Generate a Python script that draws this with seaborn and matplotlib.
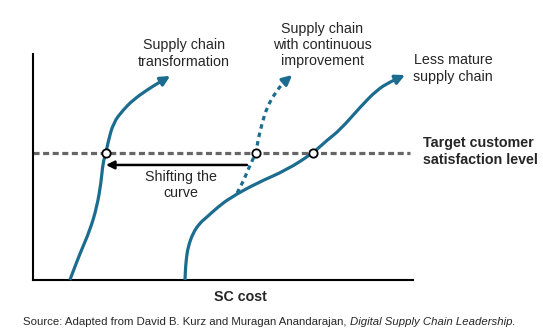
import matplotlib
matplotlib.use("Agg")
import matplotlib.pyplot as plt
from matplotlib.path import Path
from matplotlib.patches import PathPatch
import numpy as np
import pandas as pd
import seaborn as sns

# Curves in chart units (cost 0-100 on x, satisfaction 0-100 on y)
transform_x = [9.7, 12.4, 15.0, 16.8, 17.9, 18.4, 19.2, 19.7, 21.1, 23.7, 26.3, 30.0, 33.4, 36.1]
transform_y = [0.0, 11.9, 22.1, 32.3, 42.9, 51.8, 56.2, 60.6, 69.5, 75.2, 79.6, 84.1, 87.6, 90.3]

continuous_x = [53.7, 55.5, 57.1, 58.7, 59.2, 60.3, 61.6, 63.7, 65.8, 68.2]
continuous_y = [38.5, 44.2, 50.9, 56.2, 61.9, 69.5, 76.5, 82.7, 87.2, 90.7]

mature_x = [40.0, 40.1, 40.3, 40.8, 42.1, 43.9, 45.8, 48.4, 51.8, 58.9, 66.8, 73.7,
            77.4, 80.8, 86.1, 90.5, 93.9, 97.9]
mature_y = [0.0, 4.0, 8.8, 14.6, 20.8, 25.2, 27.9, 31.9, 36.3, 42.9, 48.7, 56.2,
            61.9, 66.4, 76.5, 84.1, 87.6, 90.7]

target_level = 56.2
target_extent = [0.0, 99.2]
crossing_x = [19.2, 58.7, 73.7]
shift_from, shift_to, shift_y = 56.3, 19.2, 50.9

curve_labels = ["Supply chain\ntransformation",
                "Supply chain\nwith continuous\nimprovement",
                "Less mature\nsupply chain"]
target_label = "Target customer\nsatisfaction level"
shift_label = "Shifting the\ncurve"
x_label = "SC cost"
y_label = "Customer satisfaction"
source_plain = "Source: Adapted from David B. Kurz and Muragan Anandarajan, "
source_italic = "Digital Supply Chain Leadership."

sns.set_theme(style="white")
plt.rcParams["font.family"] = ["Liberation Sans", "DejaVu Sans"]

BLUE = "#1c6c8f"
GREY = "#666666"
LW = 2.3

W, H = 543, 334
fig = plt.figure(figsize=(W / 100, H / 100), dpi=100)
ax = fig.add_axes([33 / W, (H - 280) / H, (413 - 33) / W, (280 - 54) / H])
ax.set_xlim(0, 100)
ax.set_ylim(0, 100)
for side in ("top", "right"):
    ax.spines[side].set_visible(False)
for side in ("left", "bottom"):
    ax.spines[side].set_color("black")
    ax.spines[side].set_linewidth(1.5)
ax.set_xticks([])
ax.set_yticks([])

# Target satisfaction level
target_df = pd.DataFrame({"cost": target_extent, "sat": [target_level] * 2})
sns.lineplot(data=target_df, x="cost", y="sat", color=GREY, lw=LW, ax=ax,
             zorder=2)
ax.lines[-1].set_dashes((1.9, 1.1))
ax.lines[-1].set_clip_on(False)


def smooth_path(xs, ys):
    """Quadratic Bezier path through the midpoints of consecutive points."""
    pts = np.column_stack([xs, ys])
    verts = [pts[0]]
    codes = [Path.MOVETO]
    verts.append((pts[0] + pts[1]) / 2)
    codes.append(Path.LINETO)
    for i in range(1, len(pts) - 1):
        verts += [pts[i], (pts[i] + pts[i + 1]) / 2]
        codes += [Path.CURVE3, Path.CURVE3]
    return Path(verts, codes), (pts[-2] + pts[-1]) / 2


def draw_curve(xs, ys, dashes=None):
    path, last_mid = smooth_path(xs, ys)
    patch = PathPatch(path, facecolor="none", edgecolor=BLUE, lw=LW,
                      capstyle="butt", zorder=3, clip_on=False)
    if dashes is not None:
        patch.set_linestyle((0, dashes))
    ax.add_patch(patch)
    ax.annotate("", xy=(xs[-1], ys[-1]), xytext=tuple(last_mid),
                arrowprops=dict(arrowstyle="-|>", color=BLUE, lw=LW,
                                mutation_scale=14, shrinkA=0, shrinkB=0),
                zorder=3, annotation_clip=False)


draw_curve(transform_x, transform_y)
draw_curve(mature_x, mature_y)
draw_curve(continuous_x, continuous_y, dashes=(1.4, 1.3))

# Crossing points on the target level
sns.scatterplot(x=crossing_x, y=[target_level] * len(crossing_x), ax=ax,
                s=36, color="white", edgecolor="black", linewidth=1.3, zorder=5)

# Shift arrow
ax.annotate("", xy=(shift_to, shift_y), xytext=(shift_from, shift_y),
            arrowprops=dict(arrowstyle="-|>", color="black", lw=1.8,
                            mutation_scale=12, shrinkA=0, shrinkB=0), zorder=4)

fs = 10.3
ax.text(39.7, 100.2, curve_labels[0], ha="center", va="center", fontsize=fs,
        linespacing=1.2, clip_on=False)
ax.text(76.1, 104.0, curve_labels[1], ha="center", va="center", fontsize=fs,
        linespacing=1.2, clip_on=False)
ax.text(110.5, 93.6, curve_labels[2], ha="center", va="center", fontsize=fs,
        linespacing=1.2, clip_on=False)
ax.text(102.6, 56.9, target_label, ha="left", va="center", fontsize=fs,
        fontweight="bold", linespacing=1.2, clip_on=False)
ax.text(38.9, 42.0, shift_label, ha="center", va="center", fontsize=fs,
        linespacing=1.2)
ax.text(54.7, -7.5, x_label, ha="center", va="center", fontsize=fs,
        fontweight="bold", clip_on=False)
ax.set_xlabel("")
ax.set_ylabel(y_label, fontsize=fs, fontweight="bold", labelpad=8)

src_fs = 8.22
src = fig.text(23 / W, 1 - 322 / H, source_plain, ha="left", va="center",
               fontsize=src_fs)
fig.canvas.draw()
bb = src.get_window_extent()
fig.text(bb.x1 / W, 1 - 322 / H, source_italic, ha="left", va="center",
         fontsize=src_fs, style="italic")

fig.savefig("out.png", dpi=100)
